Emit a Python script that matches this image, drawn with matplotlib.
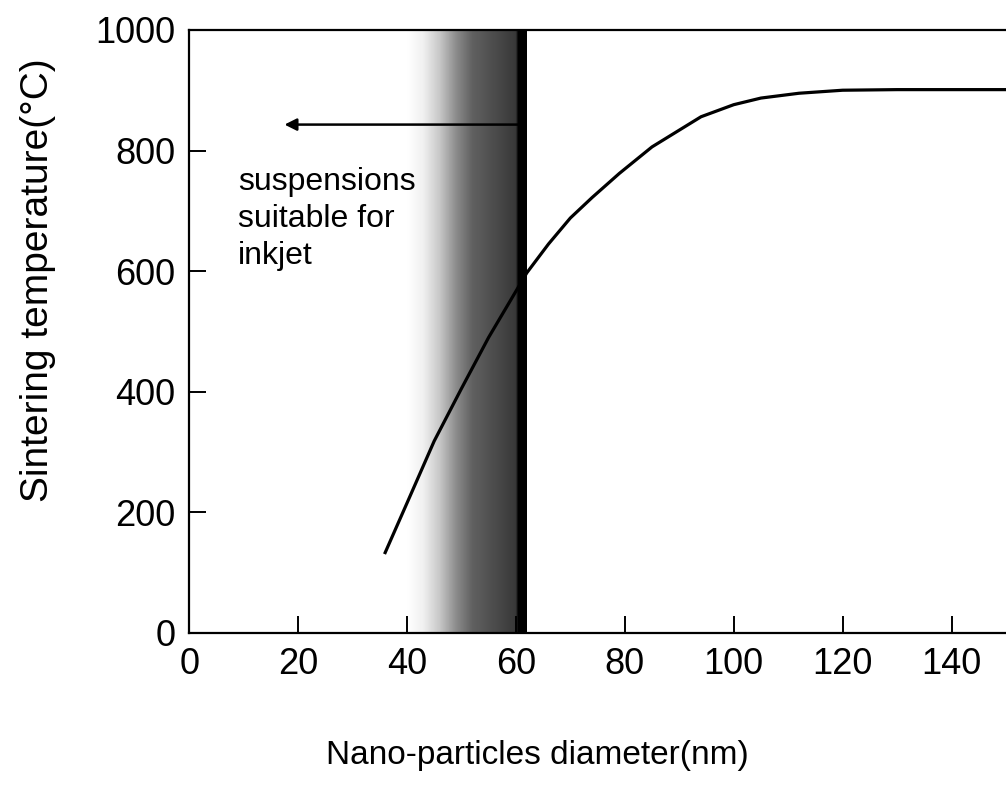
import numpy as np
import matplotlib
matplotlib.use('Agg')
import matplotlib.pyplot as plt

plt.rcParams['font.family'] = ['Liberation Sans', 'DejaVu Sans']

# curve
diameter = [36, 40, 45, 50, 55, 62, 66, 70, 74, 79, 85, 94, 100, 105, 112, 120, 130, 150]
temperature = [133, 215, 318, 405, 490, 597, 645, 688, 722, 762, 806, 856, 876, 887, 895, 900, 901, 901]

x_ticks = [0, 20, 40, 60, 80, 100, 120, 140]
y_ticks = [0, 200, 400, 600, 800, 1000]

# shaded band (inkjet limit), darkness control points
band_x = [40, 43, 46, 49, 52, 56, 60, 60.4, 62]
band_dark = [0.0, 0.06, 0.22, 0.45, 0.62, 0.7, 0.78, 1.0, 1.0]

fig = plt.figure(figsize=(10.06, 7.88), dpi=100)
ax = fig.add_axes([0.188, 0.197, 0.812, 0.765])

xs = np.linspace(band_x[0], band_x[-1], 400)
dens = np.interp(xs, band_x, band_dark)
ax.imshow(dens[np.newaxis, :], extent=[band_x[0], band_x[-1], 0, 1000],
          aspect='auto', cmap='gray_r', vmin=0, vmax=1, zorder=1)

ax.plot(diameter, temperature, color='black', lw=2.3, zorder=3)

ax.annotate('', xy=(17, 843), xytext=(61, 843),
            arrowprops=dict(arrowstyle='-|>', color='black', lw=1.8,
                            mutation_scale=18), zorder=4)
ax.text(9, 772, 'suspensions\nsuitable for\ninkjet', fontsize=23,
        va='top', ha='left', linespacing=1.3, zorder=4)

ax.set_xlim(0, 150)
ax.set_ylim(0, 1000)
ax.set_xticks(x_ticks)
ax.set_yticks(y_ticks)
ax.tick_params(direction='in', length=12, width=1.4, labelsize=26, pad=10)
ax.spines['right'].set_visible(False)
for s in ['left', 'bottom', 'top']:
    ax.spines[s].set_linewidth(1.6)

ax.set_xlabel('Nano-particles diameter(nm)', fontsize=24)
ax.xaxis.set_label_coords(0.426, -0.178)
ax.set_ylabel('Sintering temperature(\u00b0C)', fontsize=28)
ax.yaxis.set_label_coords(-0.163, 0.585)

fig.savefig('out.png', dpi=100)
